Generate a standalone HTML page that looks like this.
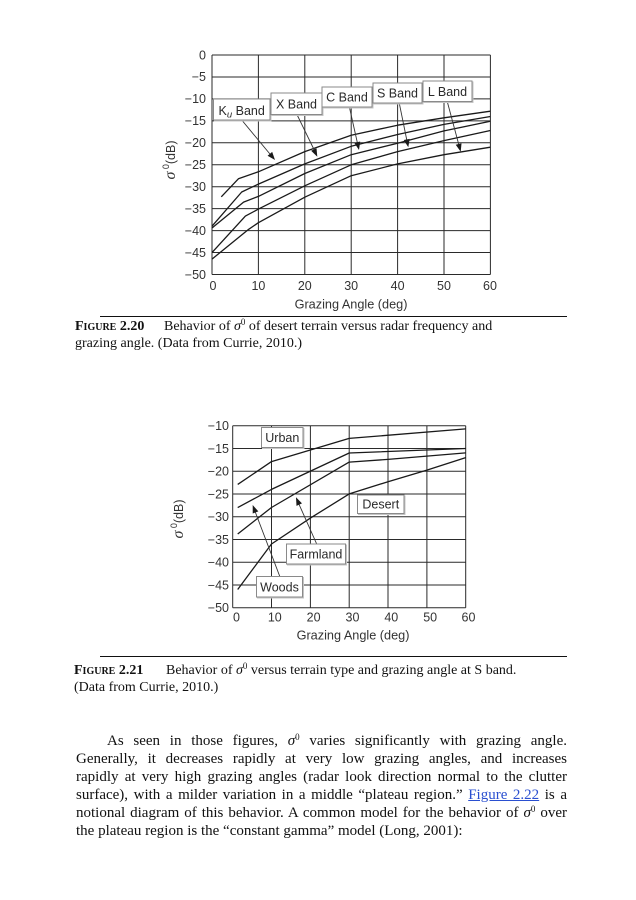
<!DOCTYPE html>
<html>
<head>
<meta charset="utf-8">
<style>
html,body{margin:0;padding:0;background:#fff;}
body{width:636px;height:900px;position:relative;overflow:hidden;font-family:"Liberation Serif",serif;color:#111;}
svg{position:absolute;left:0;top:0;}
.cap{position:absolute;font-family:"Liberation Serif",serif;font-size:14px;line-height:17px;white-space:nowrap;color:#111;}
.fig{font-weight:bold;font-variant:small-caps;}
.rule{position:absolute;left:100px;width:467px;height:1.3px;background:#111;}
.ln{position:absolute;left:76px;width:491px;font-size:15px;line-height:18px;height:18px;text-align:justify;text-align-last:justify;white-space:normal;overflow:visible;color:#111;}
.sig{font-style:italic;}
sup{font-size:9px;vertical-align:5px;line-height:0;}
a{color:#2a4fd0;text-decoration:underline;}
</style>
</head>
<body>
<svg width="636" height="900" viewBox="0 0 636 900" xmlns="http://www.w3.org/2000/svg" font-family="Liberation Sans, sans-serif">
  <!-- ================= CHART 1 ================= -->
  <g stroke="#2a2a2a" stroke-width="1" fill="none">
    <line x1="212" y1="55" x2="490.4" y2="55"/>
    <line x1="212" y1="76.95" x2="490.4" y2="76.95"/>
    <line x1="212" y1="98.9" x2="490.4" y2="98.9"/>
    <line x1="212" y1="120.85" x2="490.4" y2="120.85"/>
    <line x1="212" y1="142.8" x2="490.4" y2="142.8"/>
    <line x1="212" y1="164.75" x2="490.4" y2="164.75"/>
    <line x1="212" y1="186.7" x2="490.4" y2="186.7"/>
    <line x1="212" y1="208.65" x2="490.4" y2="208.65"/>
    <line x1="212" y1="230.6" x2="490.4" y2="230.6"/>
    <line x1="212" y1="252.55" x2="490.4" y2="252.55"/>
    <line x1="212" y1="274.5" x2="490.4" y2="274.5"/>
    <line x1="212" y1="55" x2="212" y2="274.5"/>
    <line x1="258.4" y1="55" x2="258.4" y2="274.5"/>
    <line x1="304.8" y1="55" x2="304.8" y2="274.5"/>
    <line x1="351.2" y1="55" x2="351.2" y2="274.5"/>
    <line x1="397.6" y1="55" x2="397.6" y2="274.5"/>
    <line x1="444" y1="55" x2="444" y2="274.5"/>
    <line x1="490.4" y1="55" x2="490.4" y2="274.5"/>
  </g>
  <!-- curves -->
  <g stroke="#1a1a1a" stroke-width="1.3" fill="none" stroke-linejoin="round">
    <polyline points="221.3,196.8 238.4,178.8 258.4,171.8 304.8,151.6 351.2,135.3 397.6,125.2 444,117.8 490.4,111.2"/>
    <polyline points="212,226.2 241.7,192 258.4,184.1 304.8,163.9 351.2,146.3 397.6,134.5 444,124.4 490.4,116.5"/>
    <polyline points="212,228 243.6,202.1 258.4,196.4 304.8,173.5 351.2,154.7 397.6,143.2 444,130.9 490.4,121.3"/>
    <polyline points="212,252.6 245.4,216.1 258.4,209.1 304.8,185.8 351.2,164.8 397.6,151.6 444,140.6 490.4,130.5"/>
    <polyline points="212,259.1 248.7,229.3 258.4,222.7 304.8,197.2 351.2,175.7 397.6,163.9 444,154.7 490.4,147.2"/>
  </g>
  <!-- arrows -->
  <g stroke="#333" stroke-width="0.9" fill="none">
    <line x1="241.7" y1="120" x2="272" y2="156.5"/>
    <line x1="296.7" y1="114" x2="315.7" y2="153"/>
    <line x1="349.3" y1="106.7" x2="358.2" y2="146.5"/>
    <line x1="399.3" y1="103.3" x2="407.5" y2="143.5"/>
    <line x1="447.3" y1="101.7" x2="459.7" y2="148"/>
  </g>
  <g fill="#1a1a1a" stroke="none">
    <polygon points="275,160 267.58,155.77 272.18,151.93"/>
    <polygon points="317.3,156.7 311.12,150.79 316.52,148.19"/>
    <polygon points="359,150 354.32,142.85 360.18,141.53"/>
    <polygon points="408.3,147.3 403.76,140.06 409.64,138.86"/>
    <polygon points="460.7,151.7 455.73,144.75 461.53,143.19"/>
  </g>
  <!-- label boxes -->
  <g fill="#fff" stroke="#8a8a8a" stroke-width="1">
    <rect x="214.5" y="100" width="56.5" height="21" stroke="#c4c4c4"/>
    <rect x="213.5" y="99" width="56.5" height="21"/>
    <rect x="272" y="94" width="51" height="21.5" stroke="#c4c4c4"/>
    <rect x="271" y="93" width="51" height="21.5"/>
    <rect x="323" y="88" width="50" height="20" stroke="#c4c4c4"/>
    <rect x="322" y="87" width="50" height="20"/>
    <rect x="374" y="84" width="49" height="20" stroke="#c4c4c4"/>
    <rect x="373" y="83" width="49" height="20"/>
    <rect x="424" y="82" width="49" height="20.5" stroke="#c4c4c4"/>
    <rect x="423" y="81" width="49" height="20.5"/>
  </g>
  <g fill="#2a2a2a" font-size="12.5" text-anchor="middle">
    <text x="241.7" y="114.8">K<tspan font-style="italic" font-size="9.5" dy="2.5">u</tspan><tspan dy="-2.5"> Band</tspan></text>
    <text x="296.5" y="108.5">X Band</text>
    <text x="347" y="101.5">C Band</text>
    <text x="397.5" y="97.5">S Band</text>
    <text x="447.5" y="96">L Band</text>
  </g>
  <!-- y ticks chart 1 -->
  <g fill="#333" font-size="12.5" text-anchor="end">
    <text x="206" y="59.3">0</text>
    <text x="206" y="81.2">−5</text>
    <text x="206" y="103.2">−10</text>
    <text x="206" y="125.1">−15</text>
    <text x="206" y="147.1">−20</text>
    <text x="206" y="169">−25</text>
    <text x="206" y="191">−30</text>
    <text x="206" y="212.9">−35</text>
    <text x="206" y="234.9">−40</text>
    <text x="206" y="256.8">−45</text>
    <text x="206" y="278.8">−50</text>
  </g>
  <g fill="#333" font-size="12.5" text-anchor="middle">
    <text x="213" y="290">0</text>
    <text x="258.4" y="290">10</text>
    <text x="304.8" y="290">20</text>
    <text x="351.2" y="290">30</text>
    <text x="397.6" y="290">40</text>
    <text x="444" y="290">50</text>
    <text x="490" y="290">60</text>
    <text x="351" y="308.5" font-size="12.7">Grazing Angle (deg)</text>
  </g>
  <text x="175" y="160" transform="rotate(-90 175 160)" text-anchor="middle" fill="#333" font-size="12.5"><tspan font-style="italic" font-size="16" font-family="Liberation Serif, serif">σ</tspan><tspan font-size="9" dy="-6"> 0</tspan><tspan dy="6">(dB)</tspan></text>

  <!-- ================= CHART 2 ================= -->
  <g stroke="#2a2a2a" stroke-width="1" fill="none">
    <line x1="232.7" y1="425.7" x2="465.7" y2="425.7"/>
    <line x1="232.7" y1="448.45" x2="465.7" y2="448.45"/>
    <line x1="232.7" y1="471.2" x2="465.7" y2="471.2"/>
    <line x1="232.7" y1="493.95" x2="465.7" y2="493.95"/>
    <line x1="232.7" y1="516.7" x2="465.7" y2="516.7"/>
    <line x1="232.7" y1="539.45" x2="465.7" y2="539.45"/>
    <line x1="232.7" y1="562.2" x2="465.7" y2="562.2"/>
    <line x1="232.7" y1="584.95" x2="465.7" y2="584.95"/>
    <line x1="232.7" y1="607.7" x2="465.7" y2="607.7"/>
    <line x1="232.7" y1="425.7" x2="232.7" y2="607.7"/>
    <line x1="271.5" y1="425.7" x2="271.5" y2="607.7"/>
    <line x1="310.4" y1="425.7" x2="310.4" y2="607.7"/>
    <line x1="349.2" y1="425.7" x2="349.2" y2="607.7"/>
    <line x1="388" y1="425.7" x2="388" y2="607.7"/>
    <line x1="426.9" y1="425.7" x2="426.9" y2="607.7"/>
    <line x1="465.7" y1="425.7" x2="465.7" y2="607.7"/>
  </g>
  <g stroke="#1a1a1a" stroke-width="1.3" fill="none" stroke-linejoin="round">
    <polyline points="237.7,484.4 271.5,461.6 349.2,438.4 465.7,428.9"/>
    <polyline points="237.7,507.6 271.5,489.4 349.2,453 465.7,448.5"/>
    <polyline points="237.7,534 271.5,507.5 349.2,462.1 388,459.4 465.7,452.9"/>
    <polyline points="237.7,589.5 271.5,544 310.4,518.1 349.2,493.9 388,481.7 426.5,470.3 465.7,457.6"/>
  </g>
  <g stroke="#333" stroke-width="0.9" fill="none">
    <line x1="280" y1="577" x2="254.5" y2="510"/>
    <line x1="316.7" y1="544" x2="298" y2="502"/>
  </g>
  <g fill="#1a1a1a">
    <polygon points="252.7,505 258.35,511.42 252.73,513.54"/>
    <polygon points="296,497.3 301.98,503.39 296.5,505.83"/>
  </g>
  <g fill="#fff" stroke="#8a8a8a" stroke-width="1">
    <rect x="262.5" y="428.5" width="41.5" height="20" stroke="#c4c4c4"/>
    <rect x="261.5" y="427.5" width="41.5" height="20"/>
    <rect x="358.5" y="496" width="46.5" height="18.5" stroke="#c4c4c4"/>
    <rect x="357.5" y="495" width="46.5" height="18.5"/>
    <rect x="287.5" y="545" width="59" height="20" stroke="#c4c4c4"/>
    <rect x="286.5" y="544" width="59" height="20"/>
    <rect x="257.5" y="577.5" width="46" height="20.5" stroke="#c4c4c4"/>
    <rect x="256.5" y="576.5" width="46" height="20.5"/>
  </g>
  <g fill="#2a2a2a" font-size="12.5" text-anchor="middle">
    <text x="282.3" y="442">Urban</text>
    <text x="380.8" y="508.7">Desert</text>
    <text x="316" y="558.5">Farmland</text>
    <text x="279.5" y="591.5">Woods</text>
  </g>
  <g fill="#333" font-size="12.5" text-anchor="end">
    <text x="229" y="430">−10</text>
    <text x="229" y="452.8">−15</text>
    <text x="229" y="475.5">−20</text>
    <text x="229" y="498.3">−25</text>
    <text x="229" y="521">−30</text>
    <text x="229" y="543.8">−35</text>
    <text x="229" y="566.5">−40</text>
    <text x="229" y="589.3">−45</text>
    <text x="229" y="612">−50</text>
  </g>
  <g fill="#333" font-size="12.5" text-anchor="middle">
    <text x="236.5" y="621.6">0</text>
    <text x="274.8" y="621.6">10</text>
    <text x="313.6" y="621.6">20</text>
    <text x="352.5" y="621.6">30</text>
    <text x="391.3" y="621.6">40</text>
    <text x="430.2" y="621.6">50</text>
    <text x="468.5" y="621.6">60</text>
    <text x="353" y="639.5" font-size="12.7">Grazing Angle (deg)</text>
  </g>
  <text x="183" y="519" transform="rotate(-90 183 519)" text-anchor="middle" fill="#333" font-size="12.5"><tspan font-style="italic" font-size="16" font-family="Liberation Serif, serif">σ</tspan><tspan font-size="9" dy="-6"> 0</tspan><tspan dy="6">(dB)</tspan></text>
</svg>

<!-- Caption 1 -->
<div class="rule" style="top:315.5px;"></div>
<div class="cap" style="left:75px;top:318px;"><span class="fig">Figure 2.20</span></div>
<div class="cap" style="left:164px;top:318px;">Behavior of <span class="sig">σ</span><sup>0</sup> of desert terrain versus radar frequency and</div>
<div class="cap" style="left:75px;top:335px;">grazing angle. (Data from Currie, 2010.)</div>

<!-- Caption 2 -->
<div class="rule" style="top:656px;"></div>
<div class="cap" style="left:74px;top:662px;"><span class="fig">Figure 2.21</span></div>
<div class="cap" style="left:166px;top:662px;">Behavior of <span class="sig">σ</span><sup>0</sup> versus terrain type and grazing angle at S band.</div>
<div class="cap" style="left:74px;top:679px;">(Data from Currie, 2010.)</div>

<!-- Body paragraph -->
<div class="ln" style="top:732px;left:107px;width:460px;">As seen in those figures, <span class="sig">σ</span><sup>0</sup> varies significantly with grazing angle.</div>
<div class="ln" style="top:750px;">Generally, it decreases rapidly at very low grazing angles, and increases</div>
<div class="ln" style="top:768px;">rapidly at very high grazing angles (radar look direction normal to the clutter</div>
<div class="ln" style="top:786px;">surface), with a milder variation in a middle “plateau region.” <a>Figure 2.22</a> is a</div>
<div class="ln" style="top:804px;">notional diagram of this behavior. A common model for the behavior of <span class="sig">σ</span><sup>0</sup> over</div>
<div class="ln" style="top:822px;text-align:left;text-align-last:left;">the plateau region is the “constant gamma” model (Long, 2001):</div>
</body>
</html>
